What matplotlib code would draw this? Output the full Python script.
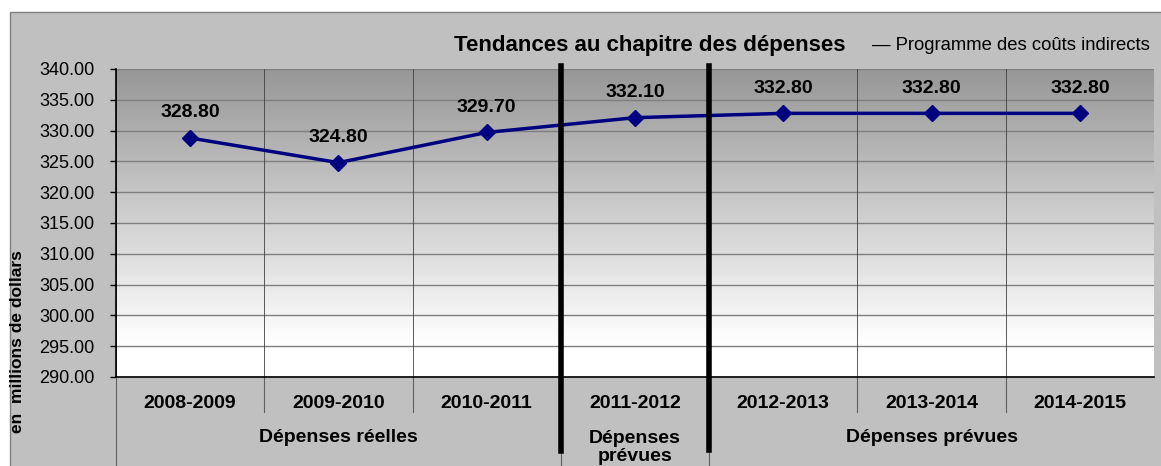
import numpy as np
import matplotlib.pyplot as plt
from matplotlib.patches import Rectangle

plt.rcParams['font.family'] = ['Liberation Sans', 'DejaVu Sans']

# data
years = ["2008-2009", "2009-2010", "2010-2011", "2011-2012",
         "2012-2013", "2013-2014", "2014-2015"]
spending = [328.80, 324.80, 329.70, 332.10, 332.80, 332.80, 332.80]
groups = ["Dépenses réelles", "Dépenses\nprévues", "Dépenses prévues"]
group_spans = [(0, 2), (3, 3), (4, 6)]
y_ticks = [290, 295, 300, 305, 310, 315, 320, 325, 330, 335, 340]

fig = plt.figure(figsize=(11.61, 4.66), dpi=100)
fig.patch.set_facecolor("white")

# grey chart area
bg = Rectangle((10 / 1161, -0.01), 1.0, 1 - 12 / 466 + 0.01,
               transform=fig.transFigure, facecolor="#c0c0c0",
               edgecolor="#808080", linewidth=1, zorder=-10)
fig.patches.append(bg)

ax = fig.add_axes([116 / 1161, 1 - 377 / 466, (1154 - 116) / 1161, 308 / 466])
ax.set_xlim(-0.5, 6.5)
ax.set_ylim(290, 340)

# vertical gradient background (dark grey at top -> white near bottom)
grad = np.linspace(0.59, 1.0, 90)
grad = np.concatenate([grad, np.ones(10)])[::-1]
img = np.repeat(grad[:, None], 2, axis=1)
ax.imshow(img, extent=[-0.5, 6.5, 290, 340], aspect="auto", cmap="gray",
          vmin=0, vmax=1, zorder=0, origin="lower")

x = np.arange(len(years))
for yv in y_ticks:
    ax.axhline(yv, color="#7f7f7f", linewidth=1, zorder=1)
for xv in np.arange(-0.5, 7, 1):
    ax.axvline(xv, color="#404040", linewidth=0.6, zorder=1)

ax.plot(x, spending, color="#000080", linewidth=2.5, marker="D",
        markersize=8, zorder=3)
for xi, v in zip(x, spending):
    ax.annotate(f"{v:.2f}", (xi, v), xytext=(0, 18), textcoords="offset points",
                ha="center", va="center", fontsize=14, fontweight="bold",
                color="black", zorder=4)

ax.set_yticks(y_ticks)
ax.set_yticklabels([f"{t:.2f}" for t in y_ticks], fontsize=13)
ax.tick_params(axis="y", length=4.5, width=1, color="black", pad=11)
ax.set_xticks([])
for s in ["top", "right"]:
    ax.spines[s].set_visible(False)
ax.spines["left"].set_linewidth(1.2)
ax.spines["bottom"].set_linewidth(1.2)

trans = ax.get_xaxis_transform()
# year labels
for xi, lab in zip(x, years):
    ax.text(xi, -0.085, lab, transform=trans, ha="center", va="center",
            fontsize=14, fontweight="bold")
# small separators under years
for xv in [0.5, 1.5, 4.5, 5.5]:
    ax.plot([xv, xv], [0, -0.114], transform=trans, color="#606060",
            linewidth=0.8, clip_on=False)
for xv in [-0.5, 2.5, 3.5]:
    ax.plot([xv, xv], [0, -0.3], transform=trans, color="#606060",
            linewidth=0.8, clip_on=False)
# group labels
for lab, (a, b) in zip(groups, group_spans):
    yy = -0.195 if "\n" not in lab else -0.228
    ax.text((a + b) / 2, yy, lab, transform=trans, ha="center", va="center",
            fontsize=14, fontweight="bold", linespacing=1.05)

# thick period separators
ax.plot([2.5, 2.5], [1.01, -0.240], transform=trans, color="black",
        linewidth=4, clip_on=False, zorder=5)
ax.plot([3.5, 3.5], [1.01, -0.237], transform=trans, color="black",
        linewidth=4, clip_on=False, zorder=5)

# y label
fig.text(18 / 1161, 1 - 342 / 466, "en  millions de dollars", rotation=90,
         ha="center", va="center", fontsize=12.5, fontweight="bold")

# title
fig.text(1150 / 1161, 1 - 45 / 466, "— Programme des coûts indirects",
         ha="right", va="center", fontsize=13.3)
fig.text(845 / 1161, 1 - 45 / 466, "Tendances au chapitre des dépenses",
         ha="right", va="center", fontsize=16, fontweight="bold")

fig.savefig("out.png", dpi=100)
